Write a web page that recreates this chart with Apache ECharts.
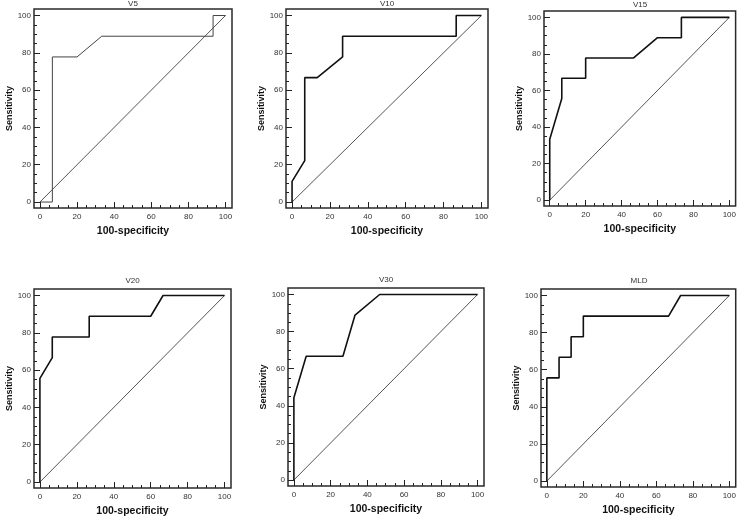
<!DOCTYPE html>
<html>
<head>
<meta charset="utf-8">
<script src="https://cdn.jsdelivr.net/npm/echarts@6/dist/echarts.min.js"></script>
<style>html,body{margin:0;padding:0;background:#fff}#c{width:739px;height:518px}</style>
</head>
<body>
<div id="c"></div>
<script>
// ---- data (100-specificity, sensitivity) ----
const titles = ['V5', 'V10', 'V15', 'V20', 'V30', 'MLD'];
const v5X  = [0, 6.7, 6.7, 20, 33.3, 93.3, 93.3, 100];
const v5Y  = [0, 0, 77.8, 77.8, 88.9, 88.9, 100, 100];
const v10X = [0, 0, 6.7, 6.7, 13.3, 26.7, 26.7, 86.7, 86.7, 100];
const v10Y = [0, 11.1, 22.2, 66.7, 66.7, 77.8, 88.9, 88.9, 100, 100];
const v15X = [0, 0, 6.7, 6.7, 20, 20, 46.7, 60, 73.3, 73.3, 100];
const v15Y = [0, 33.3, 55.6, 66.7, 66.7, 77.8, 77.8, 88.9, 88.9, 100, 100];
const v20X = [0, 0, 6.7, 6.7, 26.7, 26.7, 60, 66.7, 100];
const v20Y = [0, 55.6, 66.7, 77.8, 77.8, 88.9, 88.9, 100, 100];
const v30X = [0, 0, 6.7, 26.7, 33.3, 46.7, 100];
const v30Y = [0, 44.4, 66.7, 66.7, 88.9, 100, 100];
const mldX = [0, 0, 6.7, 6.7, 13.3, 13.3, 20, 20, 66.7, 73.3, 100];
const mldY = [0, 55.6, 55.6, 66.7, 66.7, 77.8, 77.8, 88.9, 88.9, 100, 100];
const diagX = [0, 100];
const diagY = [0, 100];
const tickLabels = [0, 20, 40, 60, 80, 100];
const minorTicks = [5, 10, 15, 25, 30, 35, 45, 50, 55, 65, 70, 75, 85, 90, 95];
const xName = '100-specificity';
const yName = 'Sensitivity';

const curvesX = [v5X, v10X, v15X, v20X, v30X, mldX];
const curvesY = [v5Y, v10Y, v15Y, v20Y, v30Y, mldY];

// ---- layout ----
const grids = [
  {left: 34,  top: 9,   width: 198, height: 199},
  {left: 286, top: 9,   width: 202, height: 199},
  {left: 544, top: 11,  width: 192, height: 195},
  {left: 34,  top: 289, width: 197, height: 199},
  {left: 288, top: 288, width: 196, height: 198},
  {left: 541, top: 289, width: 196, height: 198}
];
const titleTops = [0, 0, 1, 277, 276, 277];
const AMIN = -3.2, AMAX = 103.5;
const FONT = 'Liberation Sans, Arial, sans-serif';

const zip = (a, b) => a.map((v, i) => [v, b[i]]);

const option = {
  animation: false,
  backgroundColor: '#fff',
  title: [], grid: [], xAxis: [], yAxis: [], series: []
};

grids.forEach((g, i) => {
  option.grid.push(Object.assign({show: true, borderColor: '#2a2a2a', borderWidth: 1.5, backgroundColor: 'transparent'}, g));
  option.title.push({
    text: titles[i], left: g.left + g.width / 2, top: titleTops[i], textAlign: 'center', padding: 0,
    textStyle: {fontFamily: FONT, fontSize: 8, fontWeight: 'normal', color: '#333'}
  });
  // main axes
  option.xAxis.push({
    type: 'value', gridIndex: i, min: AMIN, max: AMAX, position: 'bottom',
    name: xName, nameLocation: 'middle', nameGap: 18,
    nameTextStyle: {fontFamily: FONT, fontSize: 10.5, fontWeight: 'bold', color: '#111'},
    axisLine: {show: false, onZero: false}, splitLine: {show: false},
    axisTick: {show: true, inside: true, length: 6, customValues: tickLabels, lineStyle: {color: '#222', width: 1}},
    axisLabel: {show: true, margin: 5, customValues: tickLabels, fontFamily: FONT, fontSize: 8, color: '#333'}
  });
  option.yAxis.push({
    type: 'value', gridIndex: i, min: AMIN, max: AMAX, position: 'left',
    name: yName, nameLocation: 'middle', nameGap: 19,
    nameTextStyle: {fontFamily: FONT, fontSize: 9, fontWeight: 'bold', color: '#111'},
    axisLine: {show: false, onZero: false}, splitLine: {show: false},
    axisTick: {show: true, inside: true, length: 6, customValues: tickLabels, lineStyle: {color: '#222', width: 1}},
    axisLabel: {show: true, margin: 3, customValues: tickLabels, fontFamily: FONT, fontSize: 8, color: '#333'}
  });
  // minor tick axes
  option.xAxis.push({
    type: 'value', gridIndex: i, min: AMIN, max: AMAX, position: 'bottom',
    axisLine: {show: false, onZero: false}, splitLine: {show: false}, axisLabel: {show: false},
    axisTick: {show: true, inside: true, length: 3, customValues: minorTicks, lineStyle: {color: '#222', width: 1}}
  });
  option.yAxis.push({
    type: 'value', gridIndex: i, min: AMIN, max: AMAX, position: 'left',
    axisLine: {show: false, onZero: false}, splitLine: {show: false}, axisLabel: {show: false},
    axisTick: {show: true, inside: true, length: 3, customValues: minorTicks, lineStyle: {color: '#222', width: 1}}
  });
  const thin = i === 0;
  option.series.push({
    type: 'line', xAxisIndex: 2 * i, yAxisIndex: 2 * i,
    data: zip(diagX, diagY), showSymbol: false, silent: true,
    lineStyle: {color: '#555', width: 1}
  });
  option.series.push({
    type: 'line', xAxisIndex: 2 * i, yAxisIndex: 2 * i,
    data: zip(curvesX[i], curvesY[i]), showSymbol: false, silent: true,
    lineStyle: {color: thin ? '#444' : '#111', width: thin ? 1 : 1.6}
  });
});

const chart = echarts.init(document.getElementById('c'), null, {renderer: 'canvas'});
chart.setOption(option);
</script>
</body>
</html>
